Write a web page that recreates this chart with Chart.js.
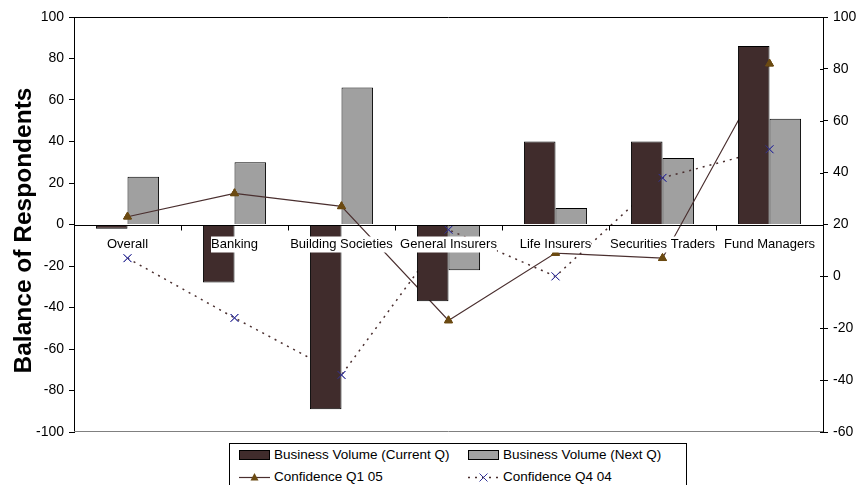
<!DOCTYPE html>
<html>
<head>
<meta charset="utf-8">
<script src="https://cdn.jsdelivr.net/npm/chart.js@4.4.1/dist/chart.umd.min.js"></script>
<style>
    body { margin: 0; background: #fff; }
    #wrap { position: relative; width: 868px; height: 485px; overflow: hidden; }
    #legend {
        position: absolute; left: 229px; top: 443px; width: 458px; height: 46px;
        border: 1px solid #000; box-sizing: border-box; background: #fff;
        font: 13.5px "Liberation Sans", Arial, sans-serif; color: #000;
    }
    .item { position: absolute; height: 20px; line-height: 20px; white-space: nowrap; }
    .item svg { position: absolute; left: 0; top: 5px; }
    .item span { position: absolute; left: 35px; }
</style>
</head>
<body>
<div id="wrap">
    <canvas id="chart" width="868" height="485"></canvas>
    <div id="legend"></div>
</div>
<script>
// Business volume / confidence by sector
const categories = ['Overall', 'Banking', 'Building Societies', 'General Insurers', 'Life Insurers', 'Securities Traders', 'Fund Managers'];
const volumeCurrent = [-2, -28, -89, -37, 40, 40, 86];
const volumeNext = [23, 30, 66, -22, 8, 32, 51];
const confidenceQ105 = [23, 32, 27, -17, 9, 7, 82];
const confidenceQ404 = [7, -16, -38, 18, 0, 38, 49];

const leftTicks = { min: -100, max: 100, step: 20 };
const rightTicks = { min: -60, max: 100, step: 20 };
const yTitle = 'Balance of Respondents';

const FONT = '"Liberation Sans", Arial, sans-serif';
const DARK = '#402c2c';
const GREY = '#a0a0a0';
const LINE = '#4a2f2f';
const TRI = '#6b4a12';
const CROSS = '#333399';

// category labels sit on the zero line with white boxes, markers above everything
const overlay = {
    id: 'overlay',
    afterDatasetsDraw(chart) {
        const ctx = chart.ctx;
        const area = chart.chartArea;
        const xs = chart.scales.x;
        const ys = chart.scales.y;
        const y1 = chart.scales.y1;

        chart.data.datasets.forEach((ds, i) => {
            if (ds.type !== 'line') return;
            chart.getDatasetMeta(i).data.forEach(p => p.draw(ctx, area));
        });

        ctx.save();
        // frame top / bottom
        ctx.lineWidth = 1;
        ctx.strokeStyle = '#000';
        ctx.beginPath();
        ctx.moveTo(area.left, Math.round(area.top) + 0.5);
        ctx.lineTo(area.right, Math.round(area.top) + 0.5);
        ctx.stroke();
        ctx.strokeStyle = '#808080';
        ctx.beginPath();
        ctx.moveTo(area.left, Math.round(area.bottom) - 0.5);
        ctx.lineTo(area.right, Math.round(area.bottom) - 0.5);
        ctx.stroke();

        // right axis ticks cross inward a little
        ctx.strokeStyle = '#000';
        y1.ticks.forEach(t => {
            const py = Math.round(y1.getPixelForValue(t.value)) + 0.5;
            ctx.beginPath();
            ctx.moveTo(area.right - 3, py);
            ctx.lineTo(area.right, py);
            ctx.stroke();
        });

        // zero line with category ticks
        const y0 = Math.round(ys.getPixelForValue(0)) + 0.5;
        ctx.beginPath();
        ctx.moveTo(area.left, y0);
        ctx.lineTo(area.right, y0);
        for (let i = 1; i < categories.length; i++) {
            const bx = Math.round((xs.getPixelForValue(i - 1) + xs.getPixelForValue(i)) / 2) + 0.5;
            ctx.moveTo(bx, y0);
            ctx.lineTo(bx, y0 + 5);
        }
        ctx.stroke();

        ctx.font = '13px ' + FONT;
        ctx.textAlign = 'center';
        ctx.textBaseline = 'middle';
        categories.forEach((c, i) => {
            const cx = xs.getPixelForValue(i);
            const w = ctx.measureText(c).width;
            ctx.fillStyle = '#fff';
            ctx.fillRect(cx - w / 2, y0 + 11, w, 16);
            ctx.fillStyle = '#000';
            ctx.fillText(c, cx, y0 + 19);
        });

        // left axis title, sits a little below the plot centre as in the original
        ctx.translate(24.5, (area.top + area.bottom) / 2 + 6);
        ctx.rotate(-Math.PI / 2);
        ctx.font = 'bold 24.5px ' + FONT;
        ctx.fillText(yTitle, 0, 0);
        ctx.restore();
    }
};

new Chart(document.getElementById('chart'), {
    type: 'bar',
    data: {
        labels: categories,
        datasets: [
            {
                type: 'bar',
                label: 'Business Volume (Current Q)',
                data: volumeCurrent,
                backgroundColor: DARK,
                borderColor: '#000',
                borderWidth: 1,
                yAxisID: 'y',
                order: 0
            },
            {
                type: 'bar',
                label: 'Business Volume (Next Q)',
                data: volumeNext,
                backgroundColor: GREY,
                borderColor: '#000',
                borderWidth: 1,
                yAxisID: 'y',
                order: 2
            },
            {
                type: 'line',
                label: 'Confidence Q1 05',
                data: confidenceQ105,
                borderColor: LINE,
                borderWidth: 1.2,
                tension: 0,
                pointStyle: 'triangle',
                pointRadius: 4.6,
                pointBackgroundColor: TRI,
                pointBorderColor: TRI,
                pointBorderWidth: 1,
                yAxisID: 'y1',
                order: 1
            },
            {
                type: 'line',
                label: 'Confidence Q4 04',
                data: confidenceQ404,
                borderColor: LINE,
                borderWidth: 1.5,
                borderDash: [2, 5],
                tension: 0,
                pointStyle: 'crossRot',
                pointRadius: 5.5,
                pointBorderColor: CROSS,
                pointBorderWidth: 1,
                yAxisID: 'y1',
                order: 1
            }
        ]
    },
    options: {
        responsive: false,
        animation: false,
        layout: { padding: { top: 17, bottom: 53, left: 0, right: 0 } },
        datasets: { bar: { categoryPercentage: 0.59, barPercentage: 1.0 } },
        plugins: {
            legend: { display: false },
            tooltip: { enabled: false }
        },
        scales: {
            x: { type: 'category', display: false, offset: true },
            y: {
                position: 'left',
                min: leftTicks.min,
                max: leftTicks.max,
                ticks: { stepSize: leftTicks.step, color: '#000', font: { family: FONT, size: 14 }, padding: 5 },
                grid: { drawOnChartArea: false, tickLength: 5, color: '#000' },
                border: { color: '#000' },
                afterFit: s => { s.width = 74; }
            },
            y1: {
                position: 'right',
                min: rightTicks.min,
                max: rightTicks.max,
                ticks: { stepSize: rightTicks.step, color: '#000', font: { family: FONT, size: 14 }, padding: 5 },
                grid: { drawOnChartArea: false, tickLength: 5, color: '#000' },
                border: { color: '#000' },
                afterFit: s => { s.width = 45; }
            }
        }
    },
    plugins: [overlay]
});

// legend box, two columns
const legendItems = [
    { label: 'Business Volume (Current Q)', x: 9, y: 1, kind: 'bar', fill: DARK },
    { label: 'Business Volume (Next Q)', x: 238, y: 1, kind: 'bar', fill: GREY },
    { label: 'Confidence Q1 05', x: 9, y: 23, kind: 'tri' },
    { label: 'Confidence Q4 04', x: 238, y: 23, kind: 'cross' }
];

function symbol(it) {
    if (it.kind === 'bar') {
        return `<svg width="31" height="10"><rect x="0.5" y="0.5" width="30" height="9" fill="${it.fill}" stroke="#000"/></svg>`;
    }
    if (it.kind === 'tri') {
        return `<svg width="31" height="10"><line x1="0" y1="5.5" x2="31" y2="5.5" stroke="${LINE}" stroke-width="1.2"/>` +
            `<polygon points="15.5,1 19.5,8.5 11.5,8.5" fill="${TRI}"/></svg>`;
    }
    return `<svg width="31" height="10"><line x1="0" y1="5.5" x2="31" y2="5.5" stroke="${LINE}" stroke-width="1.5" stroke-dasharray="2,5"/>` +
        `<path d="M11.5,1.5 L19.5,9.5 M19.5,1.5 L11.5,9.5" stroke="${CROSS}" stroke-width="1"/></svg>`;
}

document.getElementById('legend').innerHTML = legendItems.map(it =>
    `<div class="item" style="left:${it.x}px;top:${it.y}px;">${symbol(it)}<span>${it.label}</span></div>`
).join('');
</script>
</body>
</html>
